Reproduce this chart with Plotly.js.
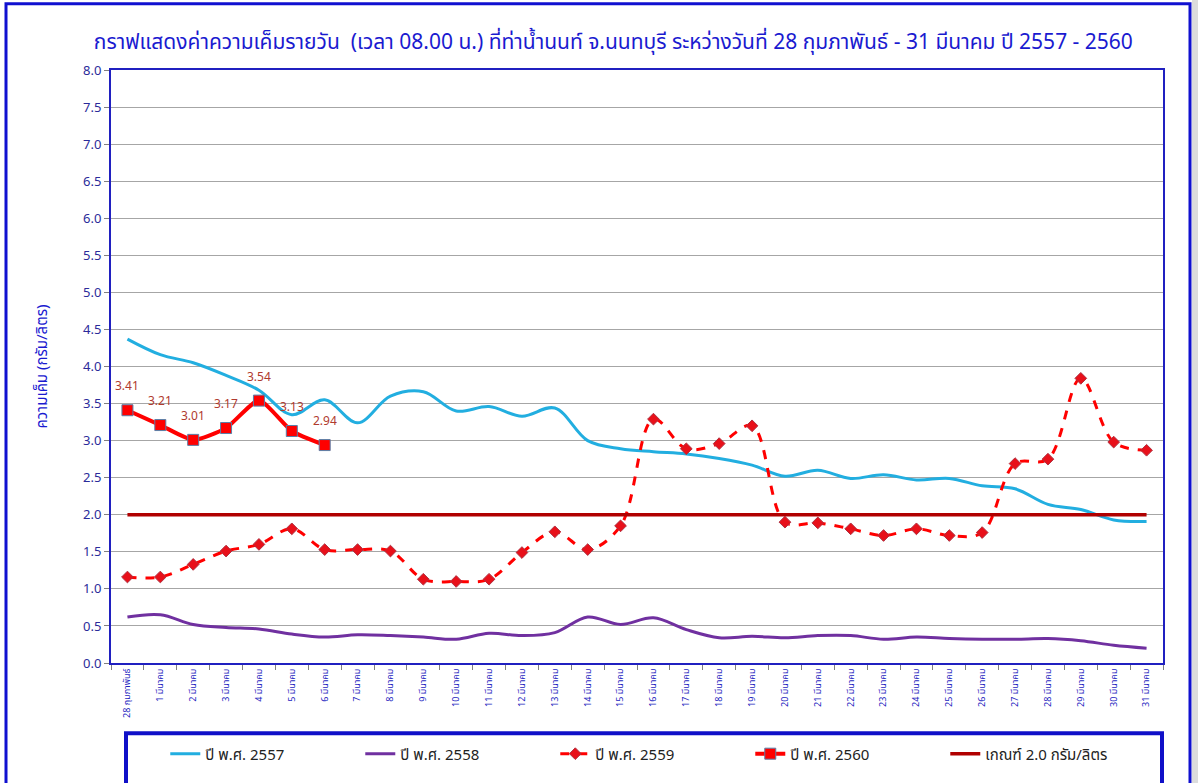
<!DOCTYPE html>
<html>
<head>
<meta charset="utf-8">
<script src="https://cdn.plot.ly/plotly-3.0.1.min.js"></script>
<style>
html,body{margin:0;padding:0;background:#fff;}
#chart{width:1198px;height:783px;}
</style>
</head>
<body>
<div id="chart"></div>
<script>
var categories = ["28 กุมภาพันธ์","1 มีนาคม","2 มีนาคม","3 มีนาคม","4 มีนาคม","5 มีนาคม","6 มีนาคม","7 มีนาคม","8 มีนาคม","9 มีนาคม","10 มีนาคม","11 มีนาคม","12 มีนาคม","13 มีนาคม","14 มีนาคม","15 มีนาคม","16 มีนาคม","17 มีนาคม","18 มีนาคม","19 มีนาคม","20 มีนาคม","21 มีนาคม","22 มีนาคม","23 มีนาคม","24 มีนาคม","25 มีนาคม","26 มีนาคม","27 มีนาคม","28 มีนาคม","29 มีนาคม","30 มีนาคม","31 มีนาคม"];

var y2557 = [4.37,4.16,4.05,3.88,3.68,3.35,3.55,3.24,3.60,3.66,3.40,3.46,3.33,3.44,3.00,2.89,2.85,2.82,2.76,2.67,2.52,2.60,2.49,2.54,2.47,2.49,2.39,2.35,2.14,2.07,1.93,1.91];
var y2558 = [0.62,0.65,0.52,0.48,0.46,0.39,0.35,0.38,0.37,0.35,0.32,0.40,0.37,0.41,0.62,0.52,0.61,0.45,0.34,0.36,0.34,0.37,0.37,0.32,0.35,0.33,0.32,0.32,0.33,0.30,0.24,0.20];
var y2559 = [1.16,1.16,1.33,1.51,1.60,1.81,1.53,1.53,1.51,1.13,1.10,1.13,1.49,1.77,1.53,1.85,3.29,2.89,2.96,3.20,1.90,1.89,1.81,1.72,1.81,1.72,1.76,2.69,2.75,3.84,2.98,2.87];
var y2560 = [3.41,3.21,3.01,3.17,3.54,3.13,2.94];
var threshold = 2.0;

var seriesNames = ["ปี พ.ศ. 2557","ปี พ.ศ. 2558","ปี พ.ศ. 2559","ปี พ.ศ. 2560","เกณฑ์ 2.0 กรัม/ลิตร"];

var FONT = "Tahoma, 'Noto Sans Thai', 'Loma', 'Garuda', 'DejaVu Sans', sans-serif";
var BLUE = "#1f1fbf";

var traces = [
  {x: categories, y: y2557, name: seriesNames[0], type: "scatter", mode: "lines",
   line: {color: "#22aee0", width: 3, shape: "spline", smoothing: 1}},
  {x: categories, y: y2558, name: seriesNames[1], type: "scatter", mode: "lines",
   line: {color: "#7030a0", width: 3, shape: "spline", smoothing: 1}},
  {x: categories, y: y2559, name: seriesNames[2], type: "scatter", mode: "lines+markers",
   line: {color: "#ff0000", width: 3, dash: "dash", shape: "spline", smoothing: 1},
   marker: {symbol: "diamond", size: 9, color: "#e8101a", line: {color: "#b03040", width: 1}}},
  {x: categories.slice(0, y2560.length), y: y2560, name: seriesNames[3], type: "scatter", mode: "lines+markers",
   line: {color: "#ff0000", width: 4, shape: "spline", smoothing: 0.6},
   marker: {symbol: "square", size: 11, color: "#ff0000", line: {color: "#5a7fa8", width: 1}}},
  {x: [categories[0], categories[categories.length-1]], y: [threshold, threshold], name: seriesNames[4],
   type: "scatter", mode: "lines", line: {color: "#b00000", width: 3.5}}
];

var labelAnnotations = y2560.map(function(v, i){
  return {x: categories[i], y: v, xref: "x", yref: "y", text: v.toFixed(2), showarrow: false,
          yshift: 24, font: {family: FONT, size: 12, color: "#b03a2e"}};
});

function px(x){ return (x-111)/1052; }
function py(y){ return (670-y)/600; }

var layout = {
  width: 1198, height: 783,
  margin: {l: 111, r: 35, t: 70, b: 113},
  paper_bgcolor: "#ffffff",
  plot_bgcolor: "#ffffff",
  font: {family: FONT, color: BLUE},
  showlegend: true,
  title: {text: "กราฟแสดงค่าความเค็มรายวัน  (เวลา 08.00 น.) ที่ท่าน้ำนนท์ จ.นนทบุรี ระหว่างวันที่ 28 กุมภาพันธ์ - 31 มีนาคม ปี 2557 - 2560",
          font: {family: FONT, size: 21, color: "#1a1ad0"}, x: 0.512, xanchor: "center", y: 0.947, yanchor: "middle"},
  xaxis: {type: "category", range: [-0.5, 31.5], tickangle: -90,
          tickfont: {family: FONT, size: 9, color: BLUE},
          ticks: "outside", tickson: "boundaries", ticklen: 5, tickcolor: "#808080",
          showgrid: false, showline: true, linecolor: "#2020c0", linewidth: 2, mirror: true, zeroline: false},
  yaxis: {range: [0, 8], dtick: 0.5, tick0: 0, tickformat: ".1f",
          tickfont: {family: FONT, size: 13, color: "#2b2b9a"},
          ticks: "outside", ticklen: 5, tickcolor: "#808080",
          showgrid: true, gridcolor: "#a6a6a6", gridwidth: 1,
          showline: true, linecolor: "#2020c0", linewidth: 2, mirror: true, zeroline: false,
          title: {text: "ความเค็ม (กรัม/ลิตร)", font: {family: FONT, size: 15, color: "#1a1ad0"}, standoff: 32}},
  legend: {orientation: "h", x: 0.515, xanchor: "center", y: py(762), yanchor: "middle",
           font: {family: FONT, size: 15, color: "#222222"},
           bgcolor: "rgba(0,0,0,0)", borderwidth: 0, entrywidth: 150, entrywidthmode: "pixels",
           itemwidth: 30},
  annotations: labelAnnotations,
  shapes: [
    {type: "rect", xref: "paper", yref: "paper", x0: px(6), x1: px(1190), y0: py(800), y1: py(3),
     line: {color: "#1010d0", width: 3}, fillcolor: "rgba(0,0,0,0)", layer: "below"},
    {type: "rect", xref: "paper", yref: "paper", x0: px(126), x1: px(1162), y0: py(800), y1: py(741),
     line: {color: "#1010c8", width: 4}, fillcolor: "rgba(0,0,0,0)", layer: "above"},
    {type: "rect", xref: "paper", yref: "paper", x0: px(1192), x1: px(1200), y0: py(800), y1: py(-5),
     line: {width: 0}, fillcolor: "#dcdcdc", layer: "above"}
  ]
};

Plotly.newPlot("chart", traces, layout, {displayModeBar: false, staticPlot: true});
</script>
</body>
</html>
